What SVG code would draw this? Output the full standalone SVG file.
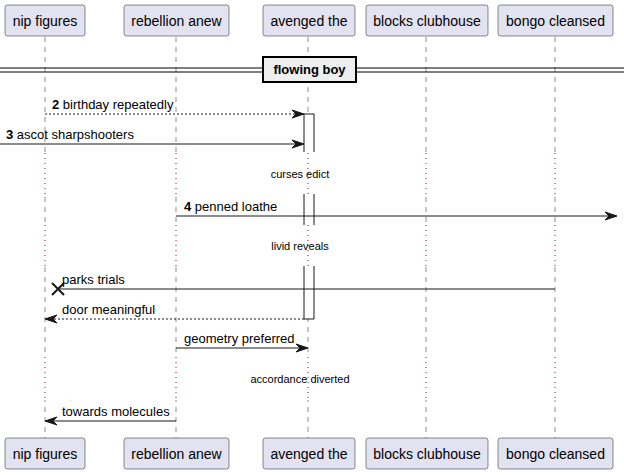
<svg xmlns="http://www.w3.org/2000/svg" width="624" height="475" viewBox="0 0 624 475">
<defs>
<style>
.part rect{fill:#E2E2F0;stroke:#181818;stroke-width:0.5}
.part text{font-family:"Liberation Sans",Arial,sans-serif;font-size:14px;fill:#000;text-anchor:middle}
.life{stroke:#181818;stroke-width:0.5;stroke-dasharray:5,5;fill:none}
.delay{stroke:#A80036;stroke-width:1;stroke-dasharray:1,4;fill:none}
.msg{stroke:#181818;stroke-width:1;fill:none}
.dash{stroke-dasharray:2,2}
.lbl{font-family:"Liberation Sans",Arial,sans-serif;font-size:13px;fill:#000}
.num{font-weight:bold}
.dl{font-family:"Liberation Sans",Arial,sans-serif;font-size:11px;fill:#000;text-anchor:middle}
.bar{fill:#FFFFFF;stroke:none}
.barl{stroke:#181818;stroke-width:1;fill:none}
.head{fill:#181818;stroke:#181818;stroke-width:1}
</style>
</defs>
<g id="lifelines">
<line class="life" x1="45" y1="37" x2="45" y2="438"/>
<line class="life" x1="176" y1="37" x2="176" y2="438"/>
<line class="life" x1="308" y1="37" x2="308" y2="438"/>
<line class="life" x1="426" y1="37" x2="426" y2="438"/>
<line class="life" x1="555" y1="37" x2="555" y2="438"/>
</g>
<g id="delays">
<rect x="0" y="152" width="624" height="42" fill="#FFFFFF"/>
<rect x="0" y="225" width="624" height="41" fill="#FFFFFF"/>
<rect x="0" y="357" width="624" height="43" fill="#FFFFFF"/>
<g class="delay">
<line x1="45" y1="153" x2="45" y2="194"/><line x1="176" y1="153" x2="176" y2="194"/><line x1="308" y1="153" x2="308" y2="194"/><line x1="426" y1="153" x2="426" y2="194"/><line x1="555" y1="153" x2="555" y2="194"/>
<line x1="45" y1="225" x2="45" y2="266"/><line x1="176" y1="225" x2="176" y2="266"/><line x1="308" y1="225" x2="308" y2="266"/><line x1="426" y1="225" x2="426" y2="266"/><line x1="555" y1="225" x2="555" y2="266"/>
<line x1="45" y1="357" x2="45" y2="400"/><line x1="176" y1="357" x2="176" y2="400"/><line x1="308" y1="357" x2="308" y2="400"/><line x1="426" y1="357" x2="426" y2="400"/><line x1="555" y1="357" x2="555" y2="400"/>
</g>
<text class="dl" x="300" y="178">curses edict</text>
<text class="dl" x="300" y="250">livid reveals</text>
<text class="dl" x="300" y="383">accordance diverted</text>
</g>
<g id="activation">
<rect class="bar" x="304" y="114" width="10" height="38"/>
<path class="barl" d="M304,152 V114 H314 V152"/>
<rect class="bar" x="304" y="194" width="10" height="31"/>
<path class="barl" d="M304,194 V225 M314,194 V225"/>
<rect class="bar" x="304" y="266" width="10" height="53"/>
<path class="barl" d="M304,266 V319 H314 V266"/>
</g>
<g id="divider">
<line x1="0" y1="68" x2="624" y2="68" stroke="#000" stroke-width="1"/>
<line x1="0" y1="72" x2="624" y2="72" stroke="#000" stroke-width="1"/>
<rect x="263" y="57" width="93" height="25" fill="#EEEEEE" stroke="#000" stroke-width="2"/>
<text x="309.5" y="74" font-family="Liberation Sans,Arial,sans-serif" font-size="13" font-weight="bold" text-anchor="middle">flowing boy</text>
</g>
<g id="connectors">
<g id="m2">
<line class="msg dash" x1="45" y1="114" x2="302" y2="114"/>
<polygon class="head" points="292,110 304,114 292,118 296,114"/>
<text class="lbl" x="52" y="109"><tspan class="num">2</tspan> birthday repeatedly</text>
</g>
<g id="m3">
<line class="msg" x1="0" y1="144" x2="302" y2="144"/>
<polygon class="head" points="292,140 304,144 292,148 296,144"/>
<text class="lbl" x="6" y="139"><tspan class="num">3</tspan> ascot sharpshooters</text>
</g>
<g id="m4">
<line class="msg" x1="176" y1="216" x2="615" y2="216"/>
<polygon class="head" points="605,212 617,216 605,220 609,216"/>
<text class="lbl" x="184" y="211"><tspan class="num">4</tspan> penned loathe</text>
</g>
<g id="m5">
<line class="msg" x1="555" y1="289" x2="58" y2="289"/>
<path d="M52,283 L64,295 M52,295 L64,283" stroke="#181818" stroke-width="2" fill="none"/>
<text class="lbl" x="62" y="284">parks trials</text>
</g>
<g id="m6">
<line class="msg dash" x1="304" y1="319" x2="47" y2="319"/>
<polygon class="head" points="57,315 45,319 57,323 53,319"/>
<text class="lbl" x="62" y="314">door meaningful</text>
</g>
<g id="m7">
<line class="msg" x1="176" y1="348" x2="306" y2="348"/>
<polygon class="head" points="296,344 308,348 296,352 300,348"/>
<text class="lbl" x="184" y="343">geometry preferred</text>
</g>
<g id="m8">
<line class="msg" x1="176" y1="421" x2="47" y2="421"/>
<polygon class="head" points="57,417 45,421 57,425 53,421"/>
<text class="lbl" x="62" y="416">towards molecules</text>
</g>
</g>
<g id="nip-figures" class="part">
<rect x="5" y="5" width="80" height="31" rx="2.5"/><text x="45" y="26">nip figures</text>
<rect x="5" y="438" width="80" height="31" rx="2.5"/><text x="45" y="459">nip figures</text>
</g>
<g id="rebellion-anew" class="part">
<rect x="124" y="5" width="105" height="31" rx="2.5"/><text x="176.5" y="26">rebellion anew</text>
<rect x="124" y="438" width="105" height="31" rx="2.5"/><text x="176.5" y="459">rebellion anew</text>
</g>
<g id="avenged-the" class="part">
<rect x="263" y="5" width="92" height="31" rx="2.5"/><text x="309" y="26">avenged the</text>
<rect x="263" y="438" width="92" height="31" rx="2.5"/><text x="309" y="459">avenged the</text>
</g>
<g id="blocks-clubhouse" class="part">
<rect x="366" y="5" width="122" height="31" rx="2.5"/><text x="427" y="26">blocks clubhouse</text>
<rect x="366" y="438" width="122" height="31" rx="2.5"/><text x="427" y="459">blocks clubhouse</text>
</g>
<g id="bongo-cleansed" class="part">
<rect x="498" y="5" width="115" height="31" rx="2.5"/><text x="555.5" y="26">bongo cleansed</text>
<rect x="498" y="438" width="115" height="31" rx="2.5"/><text x="555.5" y="459">bongo cleansed</text>
</g>
</svg>
